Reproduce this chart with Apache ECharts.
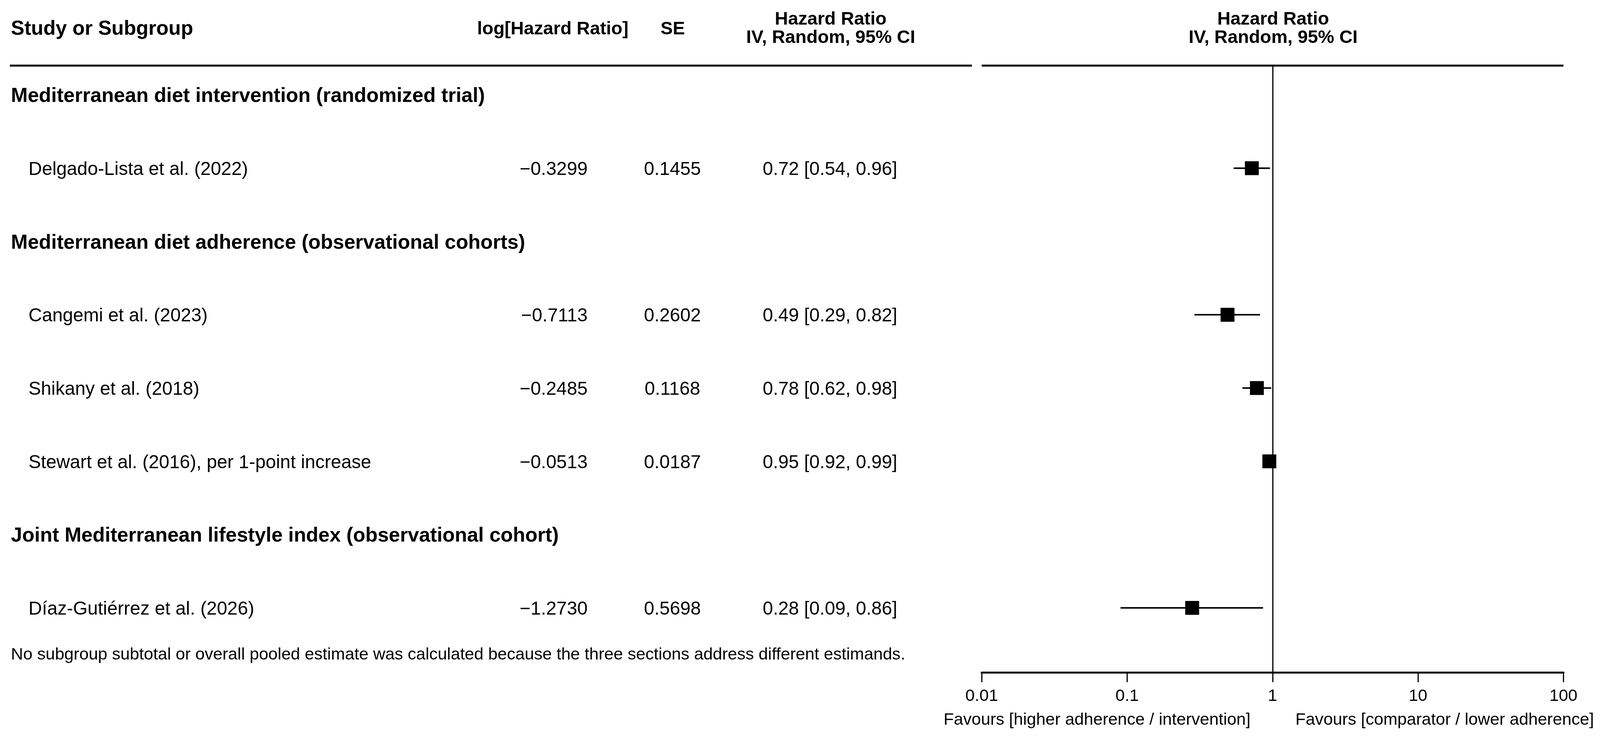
<!DOCTYPE html>
<html>
<head>
<meta charset="utf-8">
<script src="https://cdn.jsdelivr.net/npm/echarts@6/dist/echarts.min.js"></script>
<style>
  html, body { margin: 0; padding: 0; background: #fff; overflow: hidden; }
</style>
</head>
<body>
<div id="main"></div>
<script>
// data
const sections = [
  'Mediterranean diet intervention (randomized trial)',
  'Mediterranean diet adherence (observational cohorts)',
  'Joint Mediterranean lifestyle index (observational cohort)'
];
const sectionRows = [0, 2, 6];
const studies = [
  'Delgado-Lista et al. (2022)',
  'Cangemi et al. (2023)',
  'Shikany et al. (2018)',
  'Stewart et al. (2016), per 1-point increase',
  'D\u00edaz-Guti\u00e9rrez et al. (2026)'
];
const studyRows = [1, 3, 4, 5, 7];
const logHR = [-0.3299, -0.7113, -0.2485, -0.0513, -1.2730];
const seVals = [0.1455, 0.2602, 0.1168, 0.0187, 0.5698];
const hrVals = [0.72, 0.49, 0.78, 0.95, 0.28];
const ciLow = [0.54, 0.29, 0.62, 0.92, 0.09];
const ciHigh = [0.96, 0.82, 0.98, 0.99, 0.86];
const xTicks = [0.01, 0.1, 1, 10, 100];
const favourLeft = 'Favours [higher adherence / intervention]';
const favourRight = 'Favours [comparator / lower adherence]';
const footnote = 'No subgroup subtotal or overall pooled estimate was calculated because the three sections address different estimands.';

// layout is laid out for 4376x1890 and scaled to the real viewport
const W = window.innerWidth || 4376;
const H = window.innerHeight || 1890;
const sx = W / 4376, sy = H / 1890, sf = Math.min(sx, sy);
const X = v => v * sx, Y = v => v * sy;
const FONT = "'Liberation Sans', Arial, Helvetica, sans-serif";
const font = (px, bold) => (bold ? 'bold ' : '') + (px * sf).toFixed(1) + 'px ' + FONT;
const fBody = font(51), fSection = font(55, true), fHead = font(50, true), fSmall = font(46);
const plot = { left: 2685, right: 4276, top: 168, bottom: 1722 };
const col = { section: 30, study: 78, logHR: 1607, se: 1839, ci: 2270 };

const el = document.getElementById('main');
el.style.width = W + 'px';
el.style.height = H + 'px';

const fmt = (v, d) => v.toFixed(d).replace('-', '\u2212');

// table cells built from the arrays
const cells = [];
sections.forEach((s, i) => cells.push({ row: sectionRows[i], text: s, x: col.section, align: 'left', font: fSection }));
studies.forEach((s, i) => {
  const r = studyRows[i];
  cells.push({ row: r, text: s, x: col.study, align: 'left', font: fBody });
  cells.push({ row: r, text: fmt(logHR[i], 4), x: col.logHR, align: 'right', font: fBody });
  cells.push({ row: r, text: fmt(seVals[i], 4), x: col.se, align: 'center', font: fBody });
  cells.push({ row: r, text: fmt(hrVals[i], 2) + ' [' + fmt(ciLow[i], 2) + ', ' + fmt(ciHigh[i], 2) + ']', x: col.ci, align: 'center', font: fBody });
});

const forestData = studies.map((s, i) => [hrVals[i], ciLow[i], ciHigh[i], studyRows[i]]);

const chart = echarts.init(el);

function headText(text, x, y, align, f) {
  return { type: 'text', x: X(x), y: Y(y), silent: true,
    style: { text: text, font: f || fHead, fill: '#000', align: align, verticalAlign: 'middle' } };
}

const half = 19 * sf;

chart.setOption({
  animation: false,
  backgroundColor: '#fff',
  grid: { left: X(plot.left), right: W - X(plot.right), top: Y(plot.top), bottom: H - Y(plot.bottom) },
  xAxis: {
    type: 'log', logBase: 10, min: 0.01, max: 100,
    axisLine: { show: true, onZero: false, lineStyle: { color: '#000', width: 5 } },
    axisTick: { show: true, length: 25, lineStyle: { color: '#000', width: 3 } },
    axisLabel: {
      color: '#000', fontSize: 46 * sf, fontFamily: FONT, margin: 40,
      formatter: v => {
        const t = xTicks.find(k => Math.abs(Math.log10(k) - Math.log10(v)) < 1e-6);
        return t === undefined ? '' : String(t);
      }
    },
    splitLine: { show: false }
  },
  yAxis: { type: 'value', min: -0.4, max: 7.88, inverse: true, show: false },
  graphic: [
    headText('Study or Subgroup', col.section, 75, 'left', fSection),
    headText('log[Hazard Ratio]', 1512, 75, 'center'),
    headText('SE', 1840, 75, 'center'),
    headText('Hazard Ratio', 2272, 50, 'center'),
    headText('IV, Random, 95% CI', 2272, 97, 'center'),
    headText('Hazard Ratio', 3482, 50, 'center'),
    headText('IV, Random, 95% CI', 3482, 97, 'center'),
    { type: 'line', silent: true, shape: { x1: X(27), y1: Y(168), x2: X(2658), y2: Y(168) }, style: { stroke: '#000', lineWidth: 5 } },
    { type: 'line', silent: true, shape: { x1: X(plot.left), y1: Y(168), x2: X(plot.right), y2: Y(168) }, style: { stroke: '#000', lineWidth: 5 } },
    headText(favourLeft, 3420, 1844, 'right', fSmall),
    headText(favourRight, 3543, 1844, 'left', fSmall),
    headText(footnote, col.section, 1677, 'left', fSmall)
  ],
  series: [
    {
      type: 'custom',
      name: 'forest',
      clip: false,
      data: forestData,
      encode: { x: [0, 1, 2], y: 3 },
      renderItem: (params, api) => {
        const r = api.value(3);
        const p = api.coord([api.value(0), r]);
        const lo = api.coord([api.value(1), r]);
        const hi = api.coord([api.value(2), r]);
        return {
          type: 'group',
          children: [
            { type: 'line', shape: { x1: lo[0], y1: lo[1], x2: hi[0], y2: hi[1] }, style: { stroke: '#000', lineWidth: 4 } },
            { type: 'rect', shape: { x: p[0] - half, y: p[1] - half, width: half * 2, height: half * 2 }, style: { fill: '#000' } }
          ]
        };
      },
      markLine: {
        silent: true, symbol: 'none', label: { show: false },
        lineStyle: { color: '#000', width: 3, type: 'solid' },
        data: [{ xAxis: 1 }]
      },
      z: 3
    },
    {
      type: 'custom',
      name: 'table',
      clip: false,
      data: cells.map(c => [1, c.row]),
      encode: { x: 0, y: 1 },
      renderItem: (params, api) => {
        const c = cells[params.dataIndex];
        const y = api.coord([1, api.value(1)])[1] + 4 * sy;
        return { type: 'text', x: X(c.x), y: y,
          style: { text: c.text, font: c.font, fill: '#000', align: c.align, verticalAlign: 'middle' } };
      }
    }
  ]
});
</script>
</body>
</html>
